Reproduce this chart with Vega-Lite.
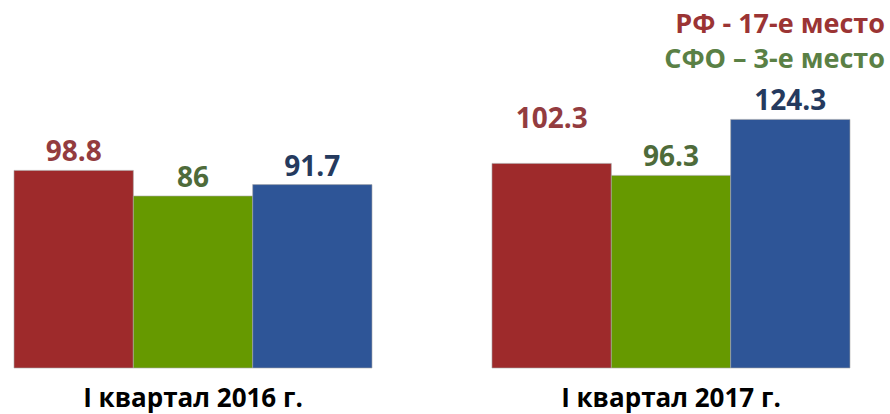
{
  "$schema": "https://vega.github.io/schema/vega-lite/v6.json",
  "width": 864,
  "height": 368,
  "autosize": {"type": "none"},
  "padding": {"left": 0, "top": 0, "right": 26, "bottom": 46},
  "background": "white",
  "config": {"view": {"stroke": null}, "font": "Open Sans"},
  "datasets": {
    "bars": [
      {"period": "I квартал 2016 г.", "series": "РФ", "value": 98.8},
      {"period": "I квартал 2016 г.", "series": "СФО", "value": 86},
      {"period": "I квартал 2016 г.", "series": "Регион", "value": 91.7},
      {"period": "I квартал 2017 г.", "series": "РФ", "value": 102.3},
      {"period": "I квартал 2017 г.", "series": "СФО", "value": 96.3},
      {"period": "I квартал 2017 г.", "series": "Регион", "value": 124.3}
    ],
    "notes": [
      {"period": "I квартал 2017 г.", "series": "РФ", "y": 167.5, "text": "РФ - 17-е место"},
      {"period": "I квартал 2017 г.", "series": "СФО", "y": 150, "text": "СФО – 3-е место"}
    ]
  },
  "encoding": {
    "x": {
      "field": "period", "type": "nominal", "sort": null,
      "scale": {"paddingInner": 0.251, "paddingOuter": 0.0293},
      "axis": {"title": null, "domain": false, "ticks": false, "labelAngle": 0, "labelFontSize": 26, "labelFontWeight": "bold", "labelColor": "#000000", "labelPadding": 17, "labelLimit": 0}
    }
  },
  "layer": [
    {
      "data": {"name": "bars"},
      "mark": {"type": "bar", "stroke": "#a8a8a8", "strokeWidth": 0.6},
      "encoding": {
        "xOffset": {"field": "series", "type": "nominal", "sort": null, "scale": {"paddingInner": 0, "paddingOuter": 0}},
        "y": {"field": "value", "type": "quantitative", "scale": {"domain": [0, 184], "nice": false}, "axis": null},
        "color": {"field": "series", "type": "nominal", "sort": null, "scale": {"domain": ["РФ", "СФО", "Регион"], "range": ["#9e2a2b", "#669900", "#2e5597"]}, "legend": null}
      }
    },
    {
      "data": {"name": "bars"},
      "transform": [{"filter": "datum.value != 102.3"}],
      "mark": {"type": "text", "baseline": "alphabetic", "dy": -9, "fontSize": 28, "fontWeight": "bold"},
      "encoding": {
        "xOffset": {"field": "series", "type": "nominal", "sort": null, "scale": {"paddingInner": 0, "paddingOuter": 0}},
        "y": {"field": "value", "type": "quantitative"},
        "text": {"field": "value", "type": "quantitative"},
        "color": {"field": "series", "type": "nominal", "sort": null, "scale": {"domain": ["РФ", "СФО", "Регион"], "range": ["#933c3f", "#4e6b3a", "#253a5e"]}, "legend": null}
      }
    },
    {
      "data": {"name": "bars"},
      "transform": [{"filter": "datum.value == 102.3"}],
      "mark": {"type": "text", "baseline": "alphabetic", "dy": -35, "fontSize": 28, "fontWeight": "bold"},
      "encoding": {
        "xOffset": {"field": "series", "type": "nominal", "sort": null, "scale": {"paddingInner": 0, "paddingOuter": 0}},
        "y": {"field": "value", "type": "quantitative"},
        "text": {"field": "value", "type": "quantitative"},
        "color": {"field": "series", "type": "nominal", "sort": null, "scale": {"domain": ["РФ", "СФО", "Регион"], "range": ["#933c3f", "#4e6b3a", "#253a5e"]}, "legend": null}
      }
    },
    {
      "data": {"name": "notes"},
      "mark": {"type": "text", "baseline": "alphabetic", "align": "right", "dx": 35, "fontSize": 27, "fontWeight": "bold"},
      "encoding": {
        "x": {"field": "period", "type": "nominal", "sort": null, "bandPosition": 1},
        "y": {"field": "y", "type": "quantitative"},
        "text": {"field": "text", "type": "nominal"},
        "color": {"field": "series", "type": "nominal", "scale": {"domain": ["РФ", "СФО"], "range": ["#9b3434", "#5a8045"]}, "legend": null}
      }
    }
  ],
  "resolve": {"scale": {"color": "independent"}}
}
